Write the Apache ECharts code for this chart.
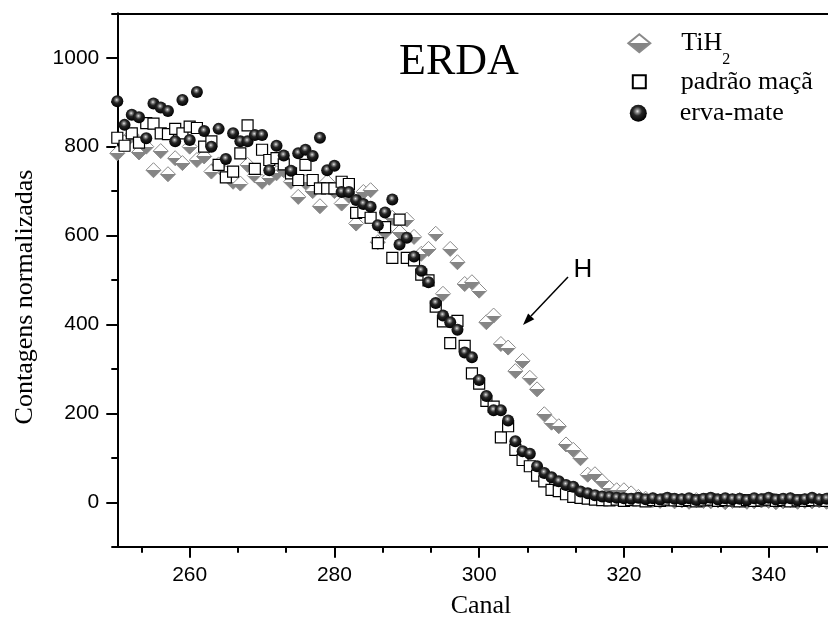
<!DOCTYPE html>
<html>
<head>
<meta charset="utf-8">
<script src="https://cdn.jsdelivr.net/npm/echarts@6/dist/echarts.min.js"></script>
<style>
  html, body { margin: 0; padding: 0; background: #fff; }
  #app { width: 828px; height: 626px; }
</style>
</head>
<body>
<div id="app"></div>
<script>
// channel numbers (x)
const canais = [
  250, 251, 252, 253, 254, 255, 256, 257, 258, 259,
  260, 261, 262, 263, 264, 265, 266, 267, 268, 269,
  270, 271, 272, 273, 274, 275, 276, 277, 278, 279,
  280, 281, 282, 283, 284, 285, 286, 287, 288, 289,
  290, 291, 292, 293, 294, 295, 296, 297, 298, 299,
  300, 301, 302, 303, 304, 305, 306, 307, 308, 309,
  310, 311, 312, 313, 314, 315, 316, 317, 318, 319,
  320, 321, 322, 323, 324, 325, 326, 327, 328, 329,
  330, 331, 332, 333, 334, 335, 336, 337, 338, 339,
  340, 341, 342, 343, 344, 345, 346, 347, 348
];

// normalized counts
const tih2 = [
  785, 810, 826, 787, 800, 747, 790, 738, 774, 763,
  800, 770, 778, 744, 760, 740, 721, 717, 759, 735,
  721, 730, 740, 747, 721, 687, 720, 700, 666, 721,
  700, 672, 690, 627, 698, 702, 585, 608, 640, 608,
  636, 597, 559, 570, 604, 469, 570, 540, 491, 495,
  476, 405, 420, 356, 348, 295, 318, 280, 254, 198,
  179, 171, 130, 118, 99, 62, 63, 47, 32, 27,
  27, 20, 12, 8, 5, 3, 6, 2, 4, 1,
  5, 3, 2, 4, 0, 3, 5, 1, 2, 4,
  3, 0, 2, 5, 1, 3, 2, 4, 1
];

const padraoMaca = [
  820, 802, 830, 809, 853, 852, 830, 828, 840, 830,
  845, 842, 800, 812, 759, 731, 744, 785, 848, 750,
  793, 770, 774, 760, 740, 725, 759, 725, 706, 706,
  706, 721, 716, 651, 653, 640, 583, 619, 550, 636,
  550, 544, 512, 499, 440, 407, 358, 408, 352, 290,
  267, 228, 215, 146, 171, 118, 95, 81, 60, 47,
  28, 25, 18, 12, 10, 8, 6, 5, 4, 6,
  3, 5, 4, 2, 5, 3, 6, 4, 3, 5,
  2, 4, 6, 3, 5, 4, 2, 5, 3, 4,
  6, 3, 5, 2, 4, 3, 5, 4, 3
];

const ervaMate = [
  902, 849, 872, 866, 819, 897, 888, 880, 812, 905,
  815, 923, 835, 800, 840, 772, 830, 812, 812, 826,
  826, 747, 802, 780, 746, 785, 793, 779, 820, 747,
  757, 698, 698, 680, 671, 665, 623, 652, 681, 580,
  595, 553, 521, 495, 448, 420, 405, 388, 337, 326,
  275, 239, 207, 207, 184, 137, 115, 109, 81, 66,
  56, 47, 39, 35, 24, 20, 16, 13, 12, 10,
  9, 8, 10, 7, 9, 6, 10, 8, 7, 9,
  5, 8, 10, 6, 9, 7, 8, 5, 9, 7,
  10, 6, 8, 9, 5, 7, 10, 6, 8
];

const xMajor = [260, 280, 300, 320, 340];
const xMinor = [253.333, 266.667, 273.333, 286.667, 293.333, 306.667, 313.333, 326.667, 333.333, 346.667];
const yMajor = [0, 200, 400, 600, 800, 1000];
const yMinor = [-100, 100, 300, 500, 700, 900, 1100];

const pairs = vals => canais.map((c, i) => [c, vals[i]]);

const serif = "'Liberation Serif', 'Times New Roman', serif";
const sans = "'Liberation Sans', Arial, sans-serif";

const diamondFill = {
  type: "linear", x: 0, y: 0, x2: 0, y2: 1,
  colorStops: [
    { offset: 0, color: "#ffffff" },
    { offset: 0.5, color: "#ffffff" },
    { offset: 0.5, color: "#858585" },
    { offset: 1, color: "#858585" }
  ]
};

const sphereFill = {
  type: "radial", x: 0.45, y: 0.38, r: 0.6,
  colorStops: [
    { offset: 0, color: "#e8e8e8" },
    { offset: 0.18, color: "#8a8a8a" },
    { offset: 0.45, color: "#262626" },
    { offset: 1, color: "#000000" }
  ]
};

function oneLegend(name, top, w, h, padLeft, keepAspect) {
  return {
    data: [name],
    left: 638.3 - w / 2,
    top: top,
    padding: 0,
    itemWidth: w,
    itemHeight: h,
    symbolKeepAspect: keepAspect,
    selectedMode: false,
    textStyle: {
      fontFamily: serif,
      fontSize: 26,
      color: "#000",
      lineHeight: 30,
      padding: [0, 0, 0, padLeft],
      rich: {
        sub: { fontFamily: serif, fontSize: 16, lineHeight: 16, padding: [32, 0, 0, 0], color: "#000" }
      }
    }
  };
}

const chart = echarts.init(document.getElementById("app"), null, { renderer: "canvas" });

const axisLineStyle = { color: "#000", width: 2 };
const plain = v => String(v);

chart.setOption({
  animation: false,
  backgroundColor: "#fff",
  grid: { left: 117.3, right: 0, top: 13.3, bottom: 79.3 },
  legend: [
    Object.assign(oneLegend("TiH2", 19.3, 22, 18, 26, false), {
      formatter: () => "TiH{sub|2}"
    }),
    oneLegend("padrão maçã", 66.7, 13, 13, 30, true),
    oneLegend("erva-mate", 98.3, 17, 17, 28, true)
  ],
  xAxis: [
    {
      type: "value", position: "bottom", min: 250, max: 348.2,
      axisLine: { show: true, onZero: false, lineStyle: axisLineStyle },
      axisTick: { show: true, inside: false, length: 11, customValues: xMajor, lineStyle: axisLineStyle },
      axisLabel: { customValues: xMajor, formatter: plain, margin: 18, fontFamily: sans, fontSize: 21, color: "#000" },
      splitLine: { show: false }
    },
    {
      type: "value", position: "bottom", min: 250, max: 348.2,
      axisLine: { show: false, onZero: false },
      axisTick: { show: true, inside: false, length: 6, customValues: xMinor, lineStyle: axisLineStyle },
      axisLabel: { show: false },
      splitLine: { show: false }
    },
    {
      type: "value", position: "top", min: 250, max: 348.2,
      axisLine: { show: true, onZero: false, lineStyle: axisLineStyle },
      axisTick: { show: false },
      axisLabel: { show: false },
      splitLine: { show: false }
    }
  ],
  yAxis: [
    {
      type: "value", position: "left", min: -100, max: 1100,
      axisLine: { show: true, onZero: false, lineStyle: axisLineStyle },
      axisTick: { show: true, inside: false, length: 11, customValues: yMajor, lineStyle: axisLineStyle },
      axisLabel: { customValues: yMajor, formatter: plain, margin: 18, fontFamily: sans, fontSize: 21, color: "#000" },
      splitLine: { show: false }
    },
    {
      type: "value", position: "left", min: -100, max: 1100,
      axisLine: { show: false, onZero: false },
      axisTick: { show: true, inside: false, length: 6, customValues: yMinor, lineStyle: axisLineStyle },
      axisLabel: { show: false },
      splitLine: { show: false }
    }
  ],
  graphic: [
    {
      type: "text", x: 25, y: 297, rotation: Math.PI / 2,
      style: { text: "Contagens normalizadas", font: "26px " + serif, fill: "#000", textAlign: "center", textVerticalAlign: "middle" }
    },
    {
      type: "text", x: 481, y: 606,
      style: { text: "Canal", font: "26px " + serif, fill: "#000", textAlign: "center", textVerticalAlign: "middle" }
    },
    {
      type: "text", x: 459, y: 62,
      style: { text: "ERDA", font: "44px " + serif, fill: "#000", textAlign: "center", textVerticalAlign: "middle" }
    },
    {
      type: "text", x: 583, y: 270,
      style: { text: "H", font: "26px " + sans, fill: "#000", textAlign: "center", textVerticalAlign: "middle" }
    },
    {
      type: "line",
      shape: { x1: 568, y1: 277, x2: 531, y2: 316 },
      style: { stroke: "#000", lineWidth: 1.5 }
    },
    {
      type: "polygon",
      shape: { points: [[523, 325], [534.3, 319.2], [528.1, 313.4]] },
      style: { fill: "#000" }
    }
  ],
  series: [
    {
      name: "TiH2", type: "scatter", symbol: "diamond", symbolSize: 15,
      itemStyle: { color: diamondFill, borderColor: "#8a8a8a", borderWidth: 1, opacity: 1 },
      data: pairs(tih2)
    },
    {
      name: "padrão maçã", type: "scatter", symbol: "rect", symbolSize: 11,
      itemStyle: { color: "#fff", borderColor: "#000", borderWidth: 1.2, opacity: 1 },
      data: pairs(padraoMaca)
    },
    {
      name: "erva-mate", type: "scatter", symbol: "circle", symbolSize: 12,
      itemStyle: { color: sphereFill, opacity: 1 },
      data: pairs(ervaMate)
    }
  ]
});
</script>
</body>
</html>
